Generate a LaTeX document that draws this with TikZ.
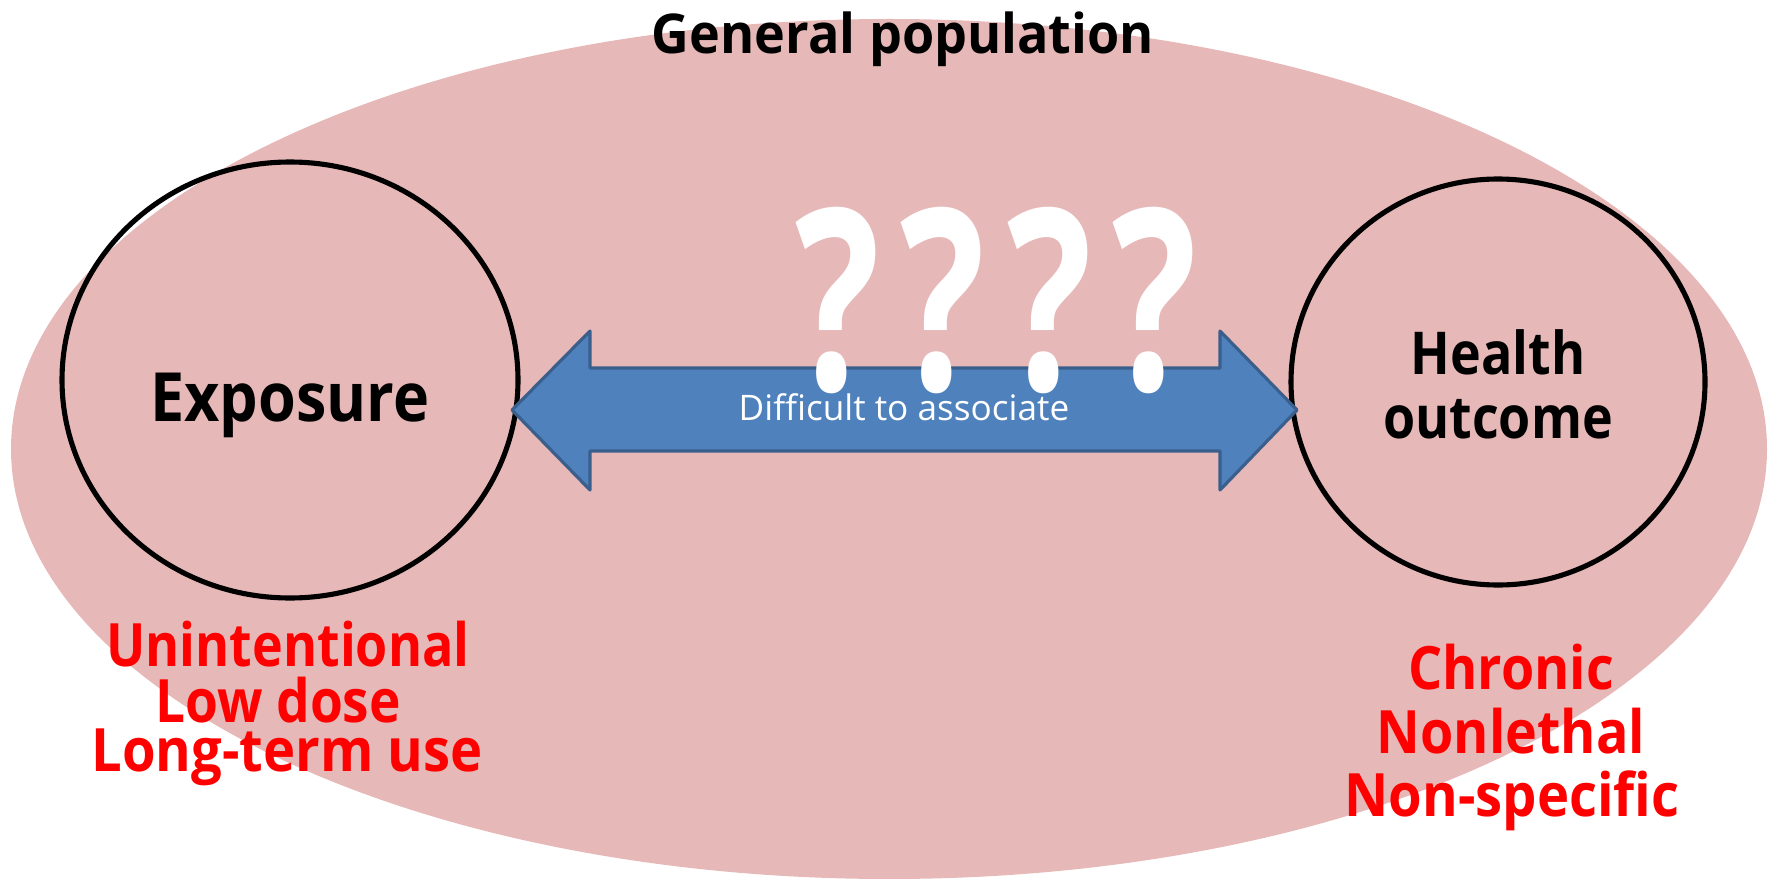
\documentclass[tikz,border=0pt]{standalone}
\usepackage{fontspec}
\setmainfont{Open Sans}
\definecolor{popfill}{HTML}{E6B8B7}
\definecolor{arrfill}{HTML}{4F81BD}
\definecolor{arrline}{HTML}{3A5F8C}
\definecolor{redtxt}{HTML}{FF0000}
\newcommand{\narrow}[2]{\scalebox{#1}[1]{#2}}
\tikzset{
  qmark/.style={text=white, anchor=base, inner sep=0pt, font=\fontsize{72}{72}\selectfont\bfseries},
  redlab/.style={text=redtxt, anchor=base, inner sep=0pt, font=\fontsize{17}{17}\selectfont\bfseries},
  blacklab/.style={text=black, anchor=base, inner sep=0pt},
}
\begin{document}
\begin{tikzpicture}[x=0.01cm,y=-0.01cm]
\useasboundingbox (0,0) rectangle (1776,879);
% population ellipse
\fill[popfill] (889,449) ellipse [x radius=878, y radius=430];
\node[blacklab, font=\fontsize{15.6}{16}\selectfont\bfseries] (pop) at (903,54) {\narrow{0.95}{General population}};
% circles
\draw[black, line width=1.45pt] (290,380) ellipse [x radius=228, y radius=218];
\draw[black, line width=1.45pt] (1498,382) ellipse [x radius=207, y radius=203];
\node[blacklab, font=\fontsize{19.3}{19}\selectfont\bfseries] (expo) at (290,421) {\narrow{0.9}{Exposure}};
\node[blacklab, font=\fontsize{16.8}{16}\selectfont\bfseries] (health) at (1498,374) {\narrow{0.88}{Health}};
\node[blacklab, font=\fontsize{16.8}{16}\selectfont\bfseries] (outc) at (1498,438) {\narrow{0.88}{outcome}};
% double arrow
\coordinate (lt) at (512,410);
\coordinate (rt) at (1297,410);
\filldraw[fill=arrfill, draw=arrline, line width=0.9pt, line join=round]
  (lt) -- (590,331) -- (590,368) -- (1220,368) -- (1220,331) -- (rt)
  -- (1220,490) -- (1220,451) -- (590,451) -- (590,490) -- cycle;
% question marks
\node[qmark] (q1) at (838,390) {\narrow{0.7}{?}};
\node[qmark] (q2) at (943,390) {\narrow{0.7}{?}};
\node[qmark] (q3) at (1050,390) {\narrow{0.7}{?}};
\node[qmark] (q4) at (1155,390) {\narrow{0.7}{?}};
\node[text=white, anchor=base, inner sep=0pt, font=\fontsize{10}{10}\selectfont] (diff) at (904,420) {Difficult to associate};
% red labels left
\node[redlab] (l1) at (288,666) {\narrow{0.87}{Unintentional}};
\node[redlab] (l2) at (278,722) {\narrow{0.89}{Low dose}};
\node[redlab] (l3) at (287,771) {\narrow{0.91}{Long-term use}};
% red labels right
\node[redlab] (r1) at (1511,689) {\narrow{0.9}{Chronic}};
\node[redlab] (r2) at (1511,753) {\narrow{0.9}{Nonlethal}};
\node[redlab] (r3) at (1512,816) {\narrow{0.91}{Non-specific}};
\end{tikzpicture}
\end{document}
